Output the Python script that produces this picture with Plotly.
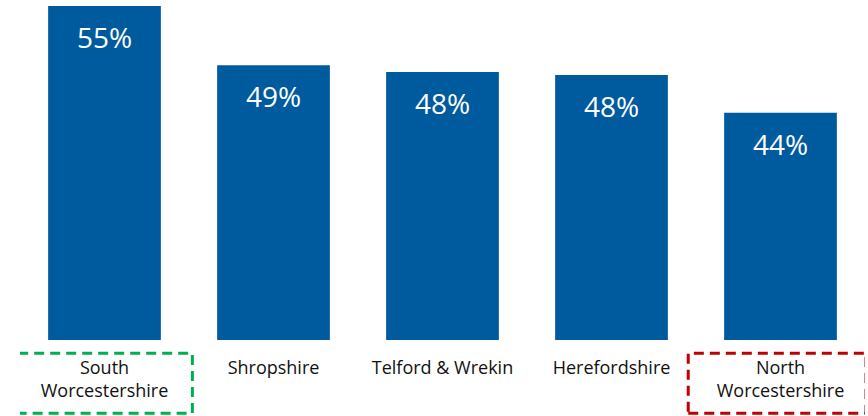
import plotly.graph_objects as go

# Data
areas = ["South<br>Worcestershire", "Shropshire", "Telford & Wrekin",
         "Herefordshire", "North<br>Worcestershire"]
pct = [55.0, 48.9, 48.2, 47.9, 44.0]
labels = ["55%", "49%", "48%", "48%", "44%"]

# highlight boxes: (category index, colour, left pad, right pad)
highlights = [(0, "#00B050", 0.52, 0.52), (4, "#C00000", 0.546, 0.506)]

bar_color = "#005A9E"

fig = go.Figure()

fig.add_trace(go.Bar(
    x=areas,
    y=pct,
    width=0.667,
    marker=dict(color=bar_color, line=dict(width=0)),
    hoverinfo="skip",
))

# percentage labels inside top of each bar
for a, v, t in zip(areas, pct, labels):
    fig.add_annotation(
        x=a, y=v, text=t, showarrow=False,
        yanchor="top", yshift=-10,
        font=dict(family="Open Sans", size=28, color="white"),
    )

# dashed boxes round highlighted labels
for i, c, lp, rp in highlights:
    fig.add_shape(
        type="rect", xref="x", yref="paper",
        x0=i - lp, x1=i + rp, y0=-0.2156, y1=-0.039,
        line=dict(color=c, width=3, dash="10px,6px"),
        layer="above",
    )

fig.update_layout(
    width=868, height=416,
    margin=dict(l=20, r=3, t=0, b=76, autoexpand=False),
    plot_bgcolor="white",
    paper_bgcolor="white",
    showlegend=False,
    font=dict(family="Open Sans", color="#000000"),
)

fig.update_xaxes(
    range=[-0.5, 4.5],
    showgrid=False, showline=False, zeroline=False, automargin=False,
    tickfont=dict(family="Open Sans", size=18, color="#111111"),
    ticks="", ticklabelstandoff=15,
)
fig.update_yaxes(
    range=[20.57, 55.62], visible=False, showgrid=False, automargin=False,
)

fig.write_html("out.html", config={"displayModeBar": False},
               post_script="document.body.style.margin='0';")
